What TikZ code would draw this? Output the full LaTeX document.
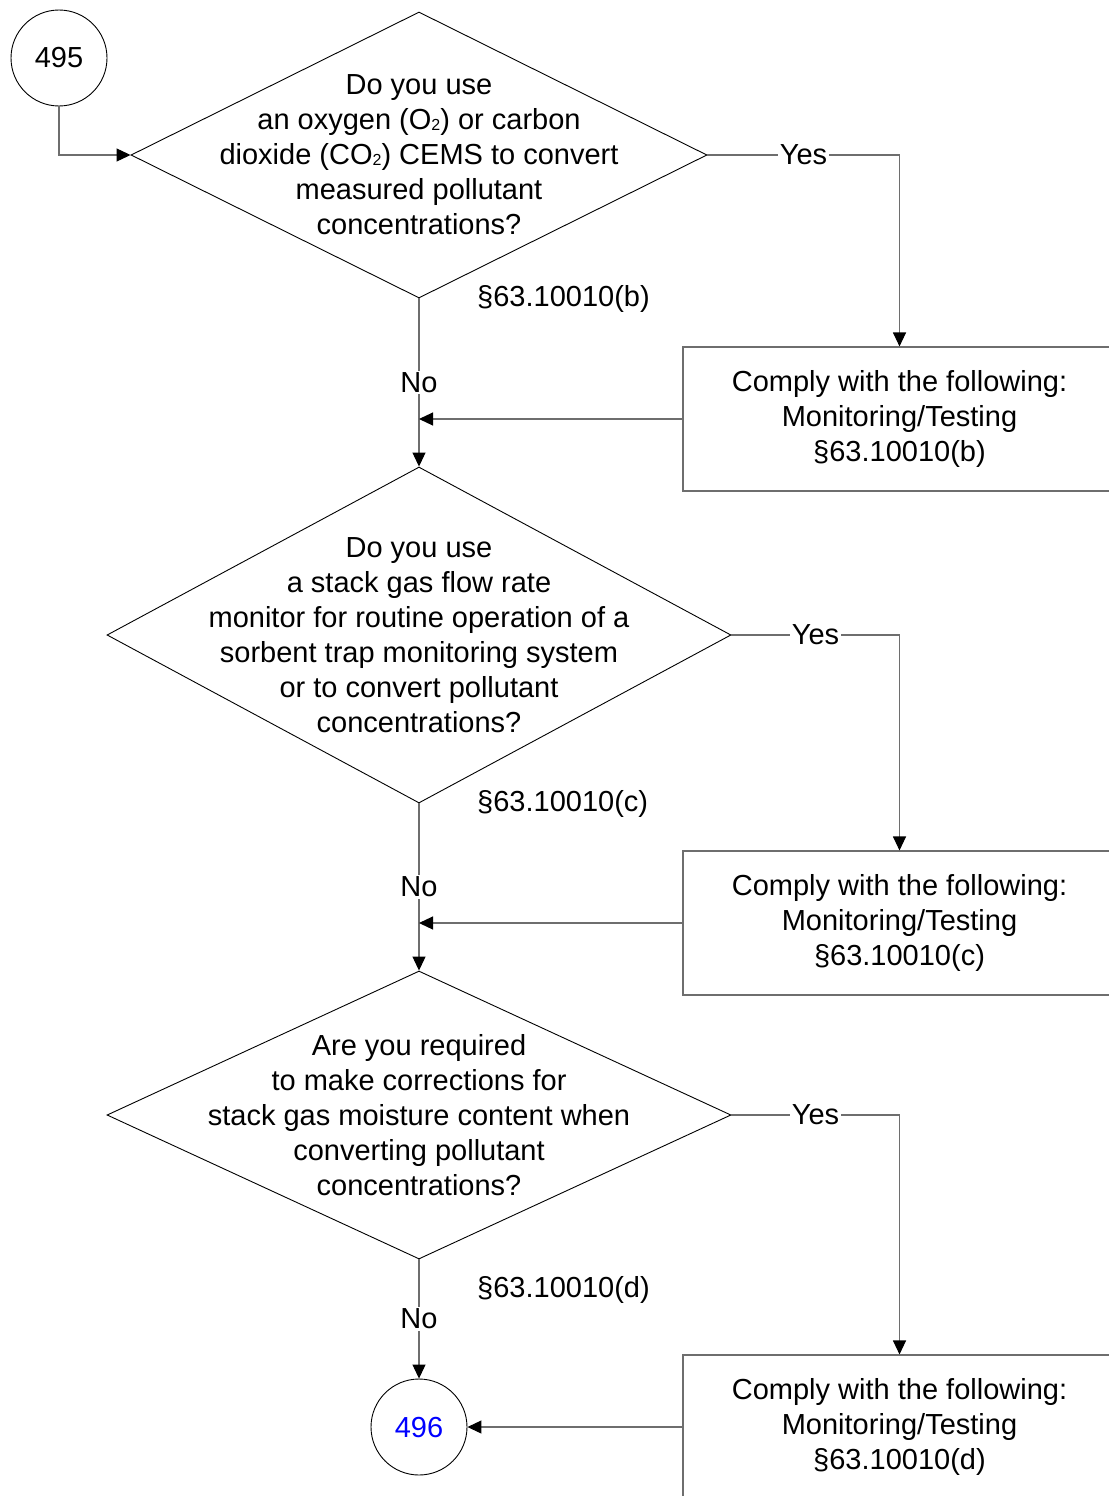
\documentclass[tikz,border=0pt]{standalone}
\usepackage{fontspec}
\setmainfont{Liberation Sans}
\usetikzlibrary{shapes.geometric,arrows.meta}
\definecolor{linegray}{RGB}{110,110,110}
\definecolor{linkblue}{RGB}{0,0,255}
\newcommand{\smalltwo}{\raisebox{-1pt}{\fontsize{16}{16}\selectfont 2}}
\begin{document}
\begin{tikzpicture}[x=1pt,y=-1pt,
  every node/.style={font=\fontsize{29}{35}\selectfont},
  dia/.style={draw=black,line width=0.9pt,shape=diamond,inner sep=0pt},
  conn/.style={draw=black,line width=0.9pt,circle,minimum size=96pt,inner sep=0pt},
  qtext/.style={align=center,inner sep=0pt},
  stepbox/.style={draw=linegray,line width=1.1pt,minimum width=433pt,minimum height=144pt,align=center,inner sep=0pt},
  flow/.style={draw=linegray,line width=1.1pt,-{Triangle[length=14pt,width=13pt,color=black]}},
  lbl/.style={fill=white,inner sep=1.5pt},
  ref/.style={anchor=west,inner sep=0pt}]
\fill[white] (0,0) rectangle (1108,1496);
\useasboundingbox (0,0) rectangle (1108,1496);

% start connector
\node[conn] (c495) at (59,58) {495};

% decision 1
\node[dia,minimum width=576pt,minimum height=286pt] (d1) at (419,155) {};
\node[qtext] (t1) at (d1.center) {Do you use\\an oxygen (O\smalltwo) or carbon\\dioxide (CO\smalltwo) CEMS to convert\\measured pollutant\\concentrations?};
\node[ref] (s1) at (477,299) {§63.10010(b)};
\node[stepbox] (b1) at (899.5,419) {Comply with the following:\\Monitoring/Testing\\§63.10010(b)};

% decision 2
\node[dia,minimum width=624pt,minimum height=336pt] (d2) at (419,635) {};
\node[qtext] (t2) at (d2.center) {Do you use\\a stack gas flow rate\\monitor for routine operation of a\\sorbent trap monitoring system\\or to convert pollutant\\concentrations?};
\node[ref] (s2) at (477,804) {§63.10010(c)};
\node[stepbox] (b2) at (899.5,923) {Comply with the following:\\Monitoring/Testing\\§63.10010(c)};

% decision 3
\node[dia,minimum width=624pt,minimum height=288pt] (d3) at (419,1115) {};
\node[qtext] (t3) at (d3.center) {Are you required\\to make corrections for\\stack gas moisture content when\\converting pollutant\\concentrations?};
\node[ref] (s3) at (477,1290) {§63.10010(d)};
\node[stepbox] (b3) at (899.5,1427) {Comply with the following:\\Monitoring/Testing\\§63.10010(d)};

% end connector
\node[conn,text=linkblue] (c496) at (419,1427) {496};

% connectors
\draw[flow] (c495.south) |- (d1.west);

\draw[flow] (d1.east) -| (b1.north) node[lbl,pos=0.25] (y1) {Yes};
\draw[flow] (d1.south) -- (d2.north) node[lbl,midway] (n1) {No};
\draw[flow] (b1.west) -- (b1.west -| d1.south);

\draw[flow] (d2.east) -| (b2.north) node[lbl,pos=0.25] (y2) {Yes};
\draw[flow] (d2.south) -- (d3.north) node[lbl,midway] (n2) {No};
\draw[flow] (b2.west) -- (b2.west -| d2.south);

\draw[flow] (d3.east) -| (b3.north) node[lbl,pos=0.25] (y3) {Yes};
\draw[flow] (d3.south) -- (c496.north) node[lbl,midway] (n3) {No};
\draw[flow] (b3.west) -- (c496.east);
\end{tikzpicture}
\end{document}
